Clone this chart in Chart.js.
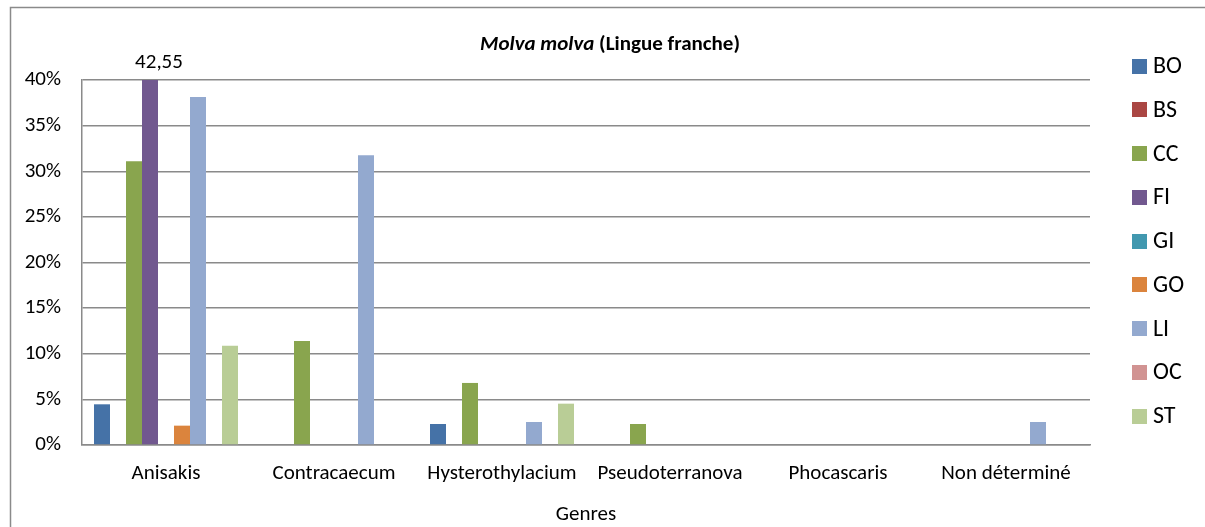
<!DOCTYPE html>
<html>
<head>
<meta charset="utf-8">
<title>Molva molva</title>
<script src="https://cdn.jsdelivr.net/npm/chart.js@4"></script>
<style>
  html, body { margin: 0; padding: 0; background: #fff; }
  #wrap { width: 1205px; height: 527px; }
</style>
</head>
<body>
<div id="wrap"><canvas id="chartGenres" width="1205" height="527"></canvas></div>
<script>
const genres = ['Anisakis', 'Contracaecum', 'Hysterothylacium', 'Pseudoterranova', 'Phocascaris', 'Non déterminé'];

// % per organ, one value per genre
const valBO = [4.46, 0, 2.3, 0, 0, 0];
const valBS = [0, 0, 0, 0, 0, 0];
const valCC = [31.1, 11.4, 6.8, 2.3, 0, 0];
const valFI = [42.55, 0, 0, 0, 0, 0];
const valGI = [0, 0, 0, 0, 0, 0];
const valGO = [2.12, 0, 0, 0, 0, 0];
const valLI = [38.14, 31.75, 2.52, 0, 0, 2.52];
const valOC = [0, 0, 0, 0, 0, 0];
const valST = [10.88, 0, 4.53, 0, 0, 0];

const organs = ['BO', 'BS', 'CC', 'FI', 'GI', 'GO', 'LI', 'OC', 'ST'];
const organValues = [valBO, valBS, valCC, valFI, valGI, valGO, valLI, valOC, valST];
const organColors = ['#4572A7', '#AA4643', '#89A54E', '#71588F', '#4198AF', '#DB843D', '#93A9CF', '#D19392', '#B9CD96'];

const yMax = 40;
const yStep = 5;

const FONT = "'Carlito', 'Liberation Sans', Arial, sans-serif";
const GRID = '#8a8a8a';

Chart.defaults.font.family = FONT;
Chart.defaults.color = '#000';

// white background + the outer frame (left and top edges only are visible)
const framePlugin = {
    id: 'frame',
    beforeDraw(chart) {
        const ctx = chart.ctx;
        ctx.save();
        ctx.fillStyle = '#fff';
        ctx.fillRect(0, 0, chart.width, chart.height);
        ctx.strokeStyle = '#8a8a8a';
        ctx.lineWidth = 1.5;
        ctx.beginPath();
        ctx.moveTo(10.5, chart.height);
        ctx.lineTo(10.5, 7.5);
        ctx.lineTo(chart.width, 7.5);
        ctx.stroke();
        ctx.restore();
    }
};

// title with italic species name
const titlePlugin = {
    id: 'mixedTitle',
    afterDraw(chart) {
        const ctx = chart.ctx;
        const part1 = 'Molva molva';
        const part2 = ' (Lingue franche)';
        ctx.save();
        ctx.fillStyle = '#000';
        ctx.textBaseline = 'alphabetic';
        ctx.font = 'italic bold 21px ' + FONT;
        const w1 = ctx.measureText(part1).width;
        ctx.font = 'bold 21px ' + FONT;
        const w2 = ctx.measureText(part2).width;
        const x0 = (10 + chart.width + 5) / 2 - (w1 + w2) / 2;
        ctx.font = 'italic bold 21px ' + FONT;
        ctx.fillText(part1, x0, 50);
        ctx.font = 'bold 21px ' + FONT;
        ctx.fillText(part2, x0 + w1, 50);
        ctx.restore();
    }
};

// value label for bars running past the axis maximum
const overflowLabelPlugin = {
    id: 'overflowLabel',
    afterDatasetsDraw(chart) {
        const ctx = chart.ctx;
        ctx.save();
        ctx.font = '21px ' + FONT;
        ctx.fillStyle = '#000';
        ctx.textAlign = 'center';
        ctx.textBaseline = 'alphabetic';
        chart.data.datasets.forEach((ds, i) => {
            const meta = chart.getDatasetMeta(i);
            ds.data.forEach((v, j) => {
                if (v > yMax) {
                    const bar = meta.data[j];
                    const txt = v.toFixed(2).replace('.', ',');
                    ctx.fillText(txt, bar.x + 9, chart.chartArea.top - 12);
                }
            });
        });
        ctx.restore();
    }
};

// legend on the right, one square per organ
const legendPlugin = {
    id: 'sideLegend',
    afterDraw(chart) {
        const ctx = chart.ctx;
        const x = 1132;
        const y0 = 66;
        const step = 43.75;
        ctx.save();
        ctx.font = '24px ' + FONT;
        ctx.textBaseline = 'middle';
        ctx.textAlign = 'left';
        chart.data.datasets.forEach((ds, i) => {
            const cy = y0 + i * step;
            ctx.fillStyle = ds.backgroundColor;
            ctx.fillRect(x, Math.round(cy - 7.5), 15, 15);
            ctx.fillStyle = '#000';
            ctx.fillText(ds.label, x + 21, cy + 1);
        });
        ctx.restore();
    }
};

new Chart(document.getElementById('chartGenres'), {
    type: 'bar',
    data: {
        labels: genres,
        datasets: organs.map((name, i) => ({
            label: name,
            data: organValues[i],
            backgroundColor: organColors[i],
            borderWidth: 0,
            categoryPercentage: 144 / 168,
            barPercentage: 1
        }))
    },
    options: {
        responsive: false,
        animation: false,
        layout: { padding: { left: 0, top: 80, right: 115, bottom: 0 } },
        plugins: {
            legend: { display: false },
            title: { display: false },
            tooltip: { enabled: false }
        },
        scales: {
            y: {
                min: 0,
                max: yMax,
                afterFit(scale) { scale.width = 82; },
                ticks: {
                    stepSize: yStep,
                    padding: 21,
                    font: { size: 21 },
                    color: '#000',
                    callback: v => v + '%'
                },
                grid: { color: GRID, lineWidth: 1.5, drawTicks: false },
                border: { color: GRID, width: 1.5 }
            },
            x: {
                afterFit(scale) { scale.height = 82; },
                ticks: {
                    padding: 16,
                    font: { size: 21 },
                    color: '#000',
                    maxRotation: 0
                },
                grid: { display: false, drawTicks: false },
                border: { color: GRID, width: 1.5 },
                title: {
                    display: true,
                    text: 'Genres',
                    font: { size: 21 },
                    color: '#000',
                    padding: { top: 0, bottom: 0 }
                }
            }
        }
    },
    plugins: [framePlugin, titlePlugin, overflowLabelPlugin, legendPlugin]
});
</script>
</body>
</html>
